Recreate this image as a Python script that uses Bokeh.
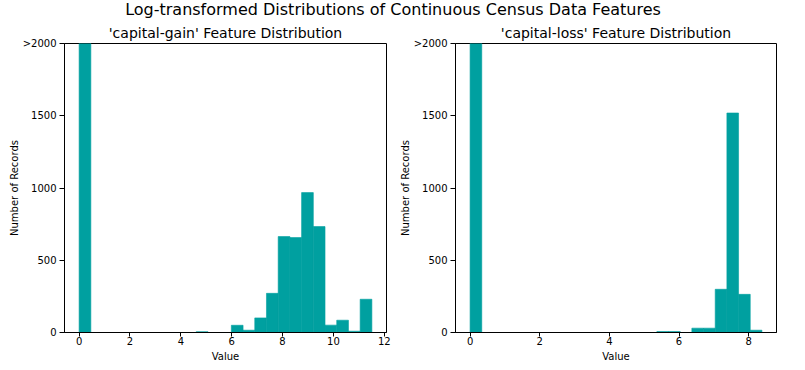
from bokeh.plotting import figure
from bokeh.models import Range1d, FixedTicker, Div, ColumnDataSource
from bokeh.layouts import row, column
from bokeh.embed import file_html
from bokeh.resources import INLINE
import numpy as np

# ---- data ----
n_bins = 25
gain_max = 11.5129   # log(1 + 99999)
loss_max = 8.3796    # log(1 + 4356)
gain_counts = [41432, 0, 0, 0, 0, 0, 0, 0, 0, 0, 6, 0, 0, 50, 16, 101, 271,
               664, 657, 968, 733, 51, 85, 9, 230]
loss_counts = [43082, 0, 0, 0, 0, 0, 0, 0, 0, 0, 0, 0, 0, 0, 0, 0, 7, 7, 0,
               30, 30, 299, 1519, 264, 16]
y_ticks = [0, 500, 1000, 1500, 2000]
y_tick_labels = {2000: ">2000"}
suptitle = "Log-transformed Distributions of Continuous Census Data Features"
titles = ["'capital-gain' Feature Distribution", "'capital-loss' Feature Distribution"]
x_ticks_list = [[0, 2, 4, 6, 8, 10, 12], [0, 2, 4, 6, 8]]

COLOR = "#00A0A0"
FONT = "DejaVu Sans"


def make_fig(counts, vmax, title, xticks, width, bl, br):
    edges = np.linspace(0, vmax, n_bins + 1)
    src = ColumnDataSource(dict(left=edges[:-1], right=edges[1:],
                                top=counts, bottom=[0] * len(counts)))
    pad = 0.05 * vmax
    p = figure(width=width, height=347, output_backend="svg", toolbar_location=None,
               x_range=Range1d(-pad, vmax + pad), y_range=Range1d(0, 2000),
               min_border_left=bl, min_border_right=br, min_border_top=23,
               min_border_bottom=34, title=title)
    p.quad(left="left", right="right", top="top", bottom="bottom", source=src,
           fill_color=COLOR, line_color=COLOR, line_width=0.6)
    p.title.text_font = FONT
    p.title.text_font_size = "14px"
    p.title.text_font_style = "normal"
    p.title.text_color = "black"
    p.title.align = "center"
    p.title.standoff = 6
    p.title.offset = 0
    p.xgrid.visible = False
    p.ygrid.visible = False
    p.outline_line_color = "black"
    p.outline_line_alpha = 1
    p.outline_line_width = 1
    p.background_fill_color = "white"
    p.border_fill_color = "white"
    p.xaxis.ticker = FixedTicker(ticks=xticks)
    p.yaxis.ticker = FixedTicker(ticks=y_ticks)
    p.yaxis.major_label_overrides = y_tick_labels
    p.xaxis.axis_label = "Value"
    p.yaxis.axis_label = "Number of Records"
    for ax in (p.xaxis[0], p.yaxis[0]):
        ax.axis_line_color = "black"
        ax.major_tick_line_color = "black"
        ax.major_tick_in = 0
        ax.minor_tick_line_color = None
        ax.major_label_text_font = FONT
        ax.major_label_text_font_size = "10px"
        ax.major_label_text_color = "black"
        ax.axis_label_text_font = FONT
        ax.axis_label_text_font_size = "10px"
        ax.axis_label_text_font_style = "normal"
        ax.axis_label_text_color = "black"
    p.xaxis.major_tick_out = 4
    p.xaxis.major_label_standoff = 0
    p.xaxis.axis_label_standoff = 3
    p.yaxis.major_tick_out = 5
    p.yaxis.major_label_standoff = 3
    p.yaxis.axis_label_standoff = 0
    p.yaxis.major_label_orientation = "horizontal"
    return p


p1 = make_fig(gain_counts, gain_max, titles[0], x_ticks_list[0], 391, 64, 5)
p2 = make_fig(loss_counts, loss_max, titles[1], x_ticks_list[1], 405, 64, 20)

div = Div(text=suptitle, width=786, height=19, margin=(0, 0, 0, 0),
          styles={"font-size": "16px", "font-family": FONT, "text-align": "center",
                  "line-height": "18px", "padding-top": "1px", "color": "black",
                  "width": "786px"})

layout = column(div, row(p1, p2, spacing=0), spacing=0)

open("out.html", "w").write(file_html(layout, INLINE))
